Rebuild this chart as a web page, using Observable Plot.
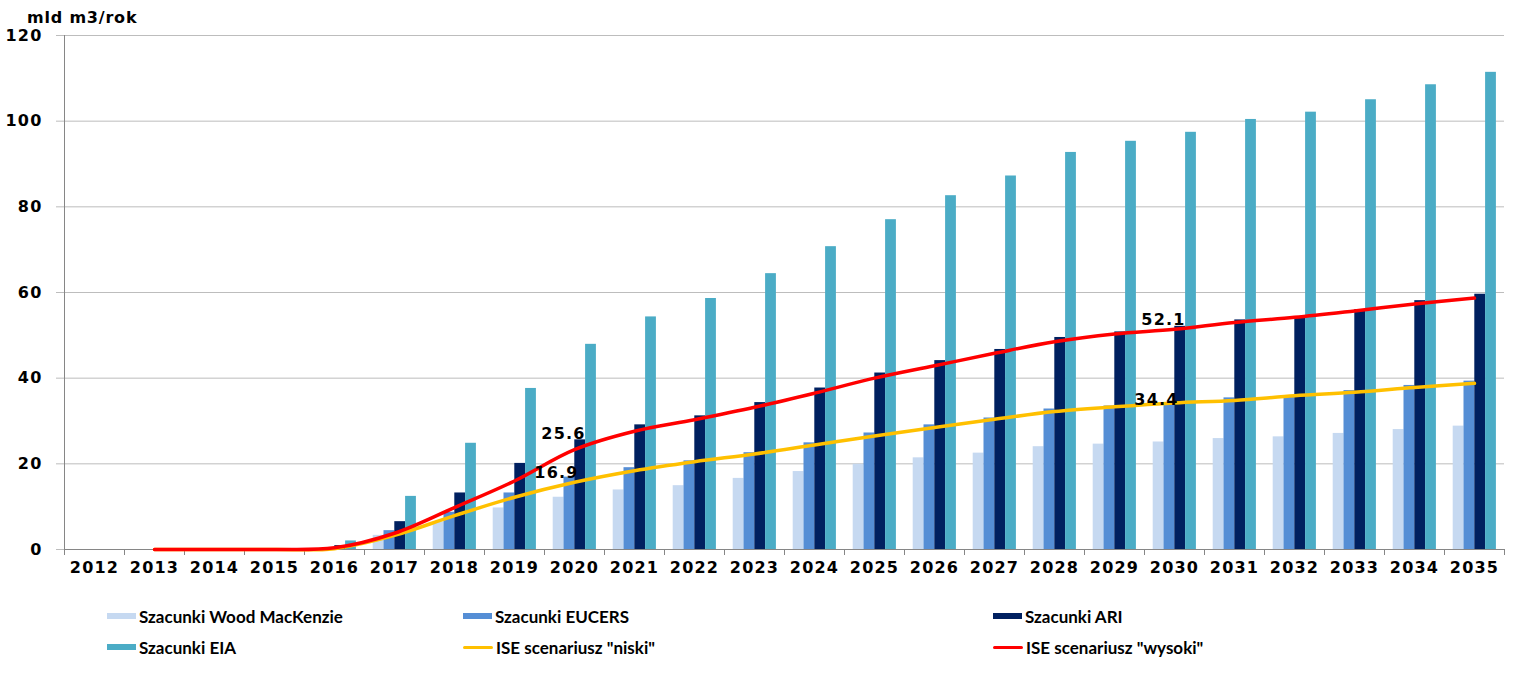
<!DOCTYPE html>
<html><head><meta charset="utf-8">
<script src="https://cdn.jsdelivr.net/npm/d3@7"></script>
<script src="https://cdn.jsdelivr.net/npm/@observablehq/plot@0.6"></script>
<style>
body{margin:0;background:#fff;}
#wrap{position:relative;width:1528px;height:696px;overflow:hidden;}
#unit{position:absolute;left:27px;top:8px;font:bold 16px "DejaVu Sans";letter-spacing:0.8px;color:#000;}
.li{position:absolute;display:flex;align-items:center;font:bold 17px Lato;color:#000;white-space:nowrap;height:20px;}
.sw{display:inline-block;margin-right:3px;}
svg text{font-family:"DejaVu Sans";font-weight:bold;letter-spacing:1.2px;}
</style></head>
<body><div id="wrap"><div id="unit">mld m3/rok</div></div>
<script>
const years = [2012,2013,2014,2015,2016,2017,2018,2019,2020,2021,2022,2023,2024,2025,2026,2027,2028,2029,2030,2031,2032,2033,2034,2035];
const woodMac = [0,0,0,0,0,3.3,6.4,9.7,12.2,13.9,14.9,16.6,18.2,19.9,21.4,22.5,24.0,24.6,25.1,25.9,26.3,27.1,28.0,28.8];
const eucers  = [0,0,0,0,0.3,4.4,8.7,13.2,16.9,19.1,20.7,22.6,24.9,27.2,29.1,30.7,32.8,33.5,34.0,35.4,35.6,37.1,38.3,39.3];
const ari     = [0,0,0,0,0.9,6.5,13.2,20.1,25.6,29.1,31.2,34.3,37.7,41.2,44.1,46.7,49.5,50.8,52.1,53.6,54.3,56.0,58.1,59.6];
const eia     = [0,0,0,0,2.0,12.4,24.8,37.6,47.9,54.3,58.6,64.4,70.7,77.0,82.6,87.2,92.7,95.3,97.4,100.4,102.1,105.0,108.5,111.4];
const iseLow  = [null,0,0,0,0.2,3.3,7.9,12.2,15.7,18.4,20.5,22.3,24.4,26.5,28.5,30.4,32.2,33.3,34.2,34.8,35.9,36.7,37.8,38.8];
const iseHigh = [null,0,0,0,0.4,3.8,9.8,16.0,23.3,27.6,30.3,33.2,36.5,40.0,42.9,45.8,48.5,50.3,51.4,53.0,54.2,55.7,57.3,58.7];
const barNames = ["Szacunki Wood MacKenzie","Szacunki EUCERS","Szacunki ARI","Szacunki EIA"];
const barColors = ["#C6D9F1","#558ED5","#002060","#4BACC6"];
const lineNames = ['ISE scenariusz "niski"','ISE scenariusz "wysoki"'];
const lineColors = ["#FFC000","#FF0000"];
const yTicks = [0,20,40,60,80,100,120];
// data labels: year, series index, text
const labelYears = [2020,2020,2030,2030];
const labelSeries = [2,1,2,1];
const labelTexts = ["25.6","16.9","52.1","34.4"];

const barSeries = [woodMac, eucers, ari, eia];
const bars = [];
barSeries.forEach((vals, k) => years.forEach((yr, i) => bars.push({year: yr, k, value: vals[i], series: barNames[k]})));
const lines = [];
[iseLow, iseHigh].forEach((vals, k) => years.forEach((yr, i) => { if (vals[i] != null) lines.push({year: yr, value: vals[i], series: lineNames[k]}); }));
const labels = labelYears.map((yr, i) => ({year: yr, k: labelSeries[i], text: labelTexts[i], value: barSeries[labelSeries[i]][years.indexOf(yr)]}));

const bw = 0.18, b0 = -0.355;
const chart = Plot.plot({
  width: 1528, height: 590,
  marginLeft: 64, marginRight: 24, marginTop: 35, marginBottom: 41,
  x: {domain: [years[0]-0.5, years[years.length-1]+0.5], axis: null},
  y: {domain: [0,120], axis: null},
  marks: [
    Plot.gridY(yTicks, {stroke: "#BDBDBD", strokeOpacity: 1, strokeWidth: 1}),
    Plot.axisY(yTicks, {tickSize: 8, tickPadding: 14, stroke: "#BDBDBD", fontSize: 16, label: null}),
    Plot.rectY(bars, {x1: d => d.year + b0 + d.k*bw, x2: d => d.year + b0 + (d.k+1)*bw, y1: 0, y2: "value", fill: d => barColors[d.k]}),
    Plot.ruleX([years[0]-0.5], {stroke: "#868686"}),
    Plot.ruleY([0], {stroke: "#868686"}),
    Plot.axisX(d3.range(years[0]-0.5, years[years.length-1]+1, 1), {tickSize: 6, stroke: "#868686", tickFormat: () => "", label: null}),
    Plot.axisX(years, {tickSize: 0, tickPadding: 12, fontSize: 16, tickFormat: d => String(d), label: null}),
    Plot.line(lines, {x: "year", y: "value", z: "series", stroke: d => lineColors[lineNames.indexOf(d.series)], strokeWidth: 3.5, curve: "catmull-rom"}),
    Plot.text(labels.filter(d => d.k === 2), {x: "year", y: "value", text: "text", dx: -11, dy: -1, lineAnchor: "bottom", fontSize: 16, fill: "#000"}),
    Plot.text(labels.filter(d => d.k === 1), {x: "year", y: "value", text: "text", dx: -18, dy: -4, lineAnchor: "middle", fontSize: 16, fill: "#000"})
  ]
});
const wrap = document.getElementById("wrap");
wrap.prepend(chart);
chart.style.position = "absolute"; chart.style.left = "0"; chart.style.top = "0";

// legend
const legendItems = [
  {name: barNames[0], color: barColors[0], type: "bar"},
  {name: barNames[1], color: barColors[1], type: "bar"},
  {name: barNames[2], color: barColors[2], type: "bar"},
  {name: barNames[3], color: barColors[3], type: "bar"},
  {name: lineNames[0], color: lineColors[0], type: "line"},
  {name: lineNames[1], color: lineColors[1], type: "line"}
];
const colX = [107, 463, 993];
const rowY = [606, 637];
legendItems.forEach((it, i) => {
  const div = document.createElement("div");
  div.className = "li";
  div.style.left = colX[i % 3] + "px";
  div.style.top = rowY[Math.floor(i / 3)] + "px";
  const sw = document.createElement("span");
  sw.className = "sw";
  sw.style.background = it.color;
  sw.style.width = (it.type === "bar" ? 29 : 30) + "px";
  sw.style.height = (it.type === "bar" ? 6 : 3) + "px";
  if (it.type === "line") sw.style.borderRadius = "2px";
  div.appendChild(sw);
  div.appendChild(document.createTextNode(it.name));
  wrap.appendChild(div);
});
</script></body></html>
